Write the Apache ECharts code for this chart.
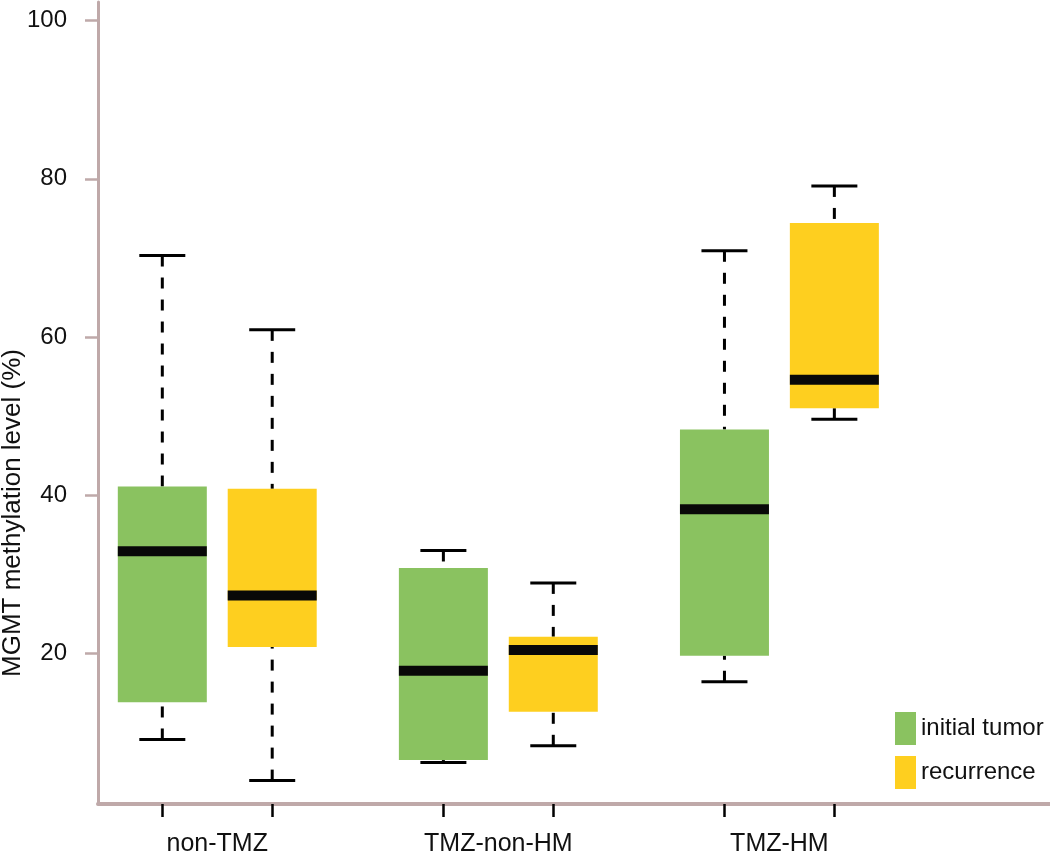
<!DOCTYPE html>
<html>
<head>
<meta charset="utf-8">
<script src="https://cdn.jsdelivr.net/npm/echarts@6/dist/echarts.min.js"></script>
<style>
html,body{margin:0;padding:0;background:#fff;}
#chart{width:1050px;height:853px;}
</style>
</head>
<body>
<div id="chart"></div>
<script>
// ---- data ----
const categories = ['non-TMZ', 'TMZ-non-HM', 'TMZ-HM'];
const seriesNames = ['initial tumor', 'recurrence'];
// each entry: [lower whisker, Q1, median, Q3, upper whisker]
const initialTumor = [
  [9.1, 13.8, 32.9, 41.1, 70.3],
  [6.2, 6.5, 17.8, 30.8, 33.0],
  [16.4, 19.7, 38.2, 48.3, 70.9]
];
const recurrence = [
  [3.9, 20.8, 27.3, 40.8, 60.9],
  [8.3, 12.6, 20.4, 22.1, 28.9],
  [49.6, 51.0, 54.6, 74.4, 79.1]
];
const yTickValues = [20, 40, 60, 80, 100];
const yLabel = 'MGMT methylation level (%)';

// ---- style / layout ----
const FONT = "'Liberation Sans', Arial, Helvetica, sans-serif";
const COLORS = ['#8AC260', '#FECF1F'];
const AXIS_COLOR = '#BFA9A9';
const PAIR_OFFSET = 0.1955;   // in group units
const BOX_W = 89, CAP_W = 46, MED_H = 10;

function toData(arr) { return arr.map((v, i) => [i].concat(v)); }

function renderBox(params, api) {
  const gi = api.value(0);
  const side = params.seriesIndex === 0 ? -1 : 1;
  const xv = gi + side * PAIR_OFFSET;
  const cx = api.coord([xv, 50])[0];
  const Y = v => api.coord([xv, v])[1];
  const lo = Y(api.value(1)), q1 = Y(api.value(2)), med = Y(api.value(3)),
        q3 = Y(api.value(4)), hi = Y(api.value(5));
  const dashStyle = { stroke: '#000', lineWidth: 3, lineDash: [11, 11] };
  const capStyle = { stroke: '#000', lineWidth: 3 };
  return {
    type: 'group',
    children: [
      { type: 'line', shape: { x1: cx, y1: hi, x2: cx, y2: q3 }, style: dashStyle },
      { type: 'line', shape: { x1: cx, y1: lo, x2: cx, y2: q1 }, style: dashStyle },
      { type: 'rect', shape: { x: cx - BOX_W / 2, y: q3, width: BOX_W, height: q1 - q3 },
        style: { fill: COLORS[params.seriesIndex] } },
      { type: 'rect', shape: { x: cx - BOX_W / 2, y: med - MED_H / 2, width: BOX_W, height: MED_H },
        style: { fill: '#080808' } },
      { type: 'line', shape: { x1: cx - CAP_W / 2, y1: hi, x2: cx + CAP_W / 2, y2: hi }, style: capStyle },
      { type: 'line', shape: { x1: cx - CAP_W / 2, y1: lo, x2: cx + CAP_W / 2, y2: lo }, style: capStyle }
    ]
  };
}

const tickPositions = [];
categories.forEach((c, i) => { tickPositions.push(i - PAIR_OFFSET, i + PAIR_OFFSET); });

const chart = echarts.init(document.getElementById('chart'), null, { renderer: 'canvas' });
chart.setOption({
  animation: false,
  backgroundColor: '#fff',
  grid: { left: 98, right: 0, top: 2, bottom: 49, containLabel: false, outerBoundsMode: 'none' },
  xAxis: {
    type: 'value',
    min: -0.4243,
    max: 2.9627,
    splitLine: { show: false },
    axisLine: { show: true, onZero: false, lineStyle: { color: AXIS_COLOR, width: 4 } },
    axisTick: { show: true, customValues: tickPositions, length: 13, lineStyle: { color: '#000', width: 2.5 } },
    axisLabel: {
      customValues: [0, 1, 2],
      formatter: v => categories[Math.round(v)],
      fontFamily: FONT, fontSize: 25, color: '#111', margin: 28
    }
  },
  yAxis: {
    type: 'value',
    min: 0.94,
    max: 102.36,
    splitLine: { show: false },
    axisLine: { show: true, onZero: false, lineStyle: { color: AXIS_COLOR, width: 3 } },
    axisTick: { show: true, customValues: yTickValues, length: 13, lineStyle: { color: AXIS_COLOR, width: 2.5 } },
    axisLabel: {
      customValues: yTickValues,
      fontFamily: FONT, fontSize: 24, color: '#111', margin: 31
    }
  },
  legend: {
    orient: 'vertical',
    left: 890,
    top: 707,
    itemWidth: 21,
    itemHeight: 33,
    itemGap: 11,
    icon: 'rect',
    textStyle: { fontFamily: FONT, fontSize: 24, color: '#111' },
    data: seriesNames
  },
  graphic: [{
    type: 'text',
    x: 13,
    y: 513,
    rotation: Math.PI / 2,
    style: {
      text: yLabel,
      font: '26px ' + FONT,
      fill: '#111',
      align: 'center',
      verticalAlign: 'middle'
    }
  }],
  series: [
    {
      name: seriesNames[0], type: 'custom', renderItem: renderBox,
      itemStyle: { color: COLORS[0] },
      encode: { x: 0, y: [1, 2, 3, 4, 5] },
      data: toData(initialTumor)
    },
    {
      name: seriesNames[1], type: 'custom', renderItem: renderBox,
      itemStyle: { color: COLORS[1] },
      encode: { x: 0, y: [1, 2, 3, 4, 5] },
      data: toData(recurrence)
    }
  ]
});
</script>
</body>
</html>
